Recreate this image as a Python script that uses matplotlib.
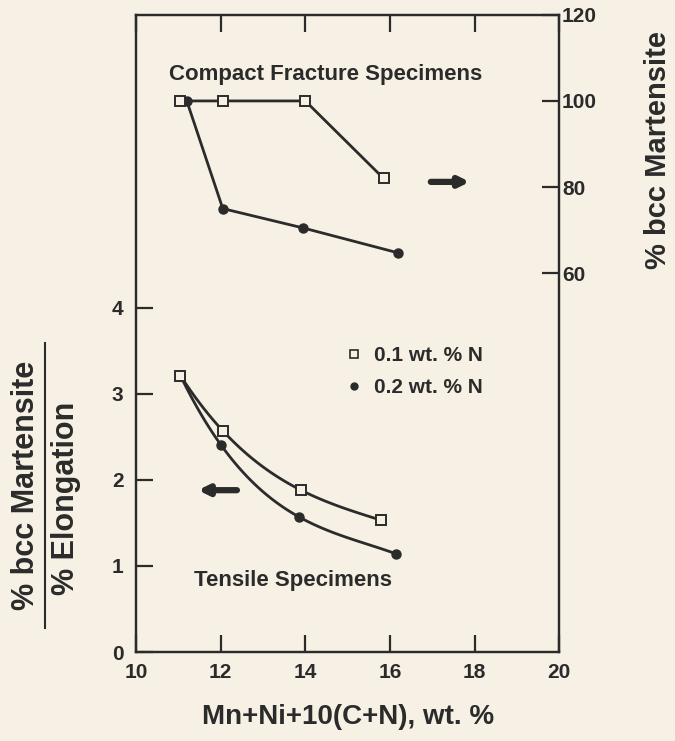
import numpy as np
import matplotlib.pyplot as plt
from matplotlib.lines import Line2D

plt.rcParams['font.family'] = ['Liberation Sans', 'DejaVu Sans']
plt.rcParams['font.weight'] = 'bold'
plt.rcParams['axes.labelweight'] = 'bold'

bg = '#f6f1e4'
ink = '#2b2b2b'

# compact fracture specimens, % bcc martensite (right axis)
cf_x_01 = [11.05, 12.05, 14.0, 15.85]
cf_y_01 = [100, 100, 100, 82]
cf_x_02 = [11.2, 12.05, 13.95, 16.2]
cf_y_02 = [100, 75, 70.5, 64.7]

# tensile specimens, % bcc martensite / % elongation (left axis)
ts_x_01 = [11.05, 12.05, 13.9, 15.8]
ts_y_01 = [3.21, 2.57, 1.88, 1.53]
ts_x_02 = [11.05, 12.0, 13.85, 16.15]
ts_y_02 = [3.21, 2.41, 1.57, 1.14]

xticks = [10, 12, 14, 16, 18, 20]
left_ticks = [0, 1, 2, 3, 4]
right_ticks = [60, 80, 100, 120]

fig = plt.figure(figsize=(6.75, 7.41), dpi=100, facecolor=bg)
ax = fig.add_axes([0.2015, 0.12, 0.627, 0.86], facecolor=bg)
ax2 = ax.twinx()

ax.set_xlim(10, 20)
ax.set_ylim(0, 7.4)
ax2.set_ylim(-28, 120)

# smooth curves through the tensile points
for xs, ys in [(ts_x_02, ts_y_02), (ts_x_01, ts_y_01)]:
    c = np.polyfit(xs, ys, len(xs) - 1)
    xx = np.linspace(xs[0], xs[-1], 100)
    ax.plot(xx, np.polyval(c, xx), color=ink, lw=2.0, zorder=2)
ax.plot(ts_x_02, ts_y_02, 'o', color=ink, ms=6.5, zorder=3)
ax.plot(ts_x_01, ts_y_01, 's', mfc=bg, mec=ink, mew=1.4, ms=6.5, zorder=4)

# compact fracture data, straight segments
ax2.plot(cf_x_02, cf_y_02, '-o', color=ink, lw=2.0, ms=6.5, zorder=3)
ax2.plot(cf_x_01, cf_y_01, '-s', color=ink, lw=2.0, mfc=bg, mec=ink, mew=1.4, ms=6.5, zorder=4)

for a in (ax, ax2):
    for s in a.spines.values():
        s.set_linewidth(1.6)
        s.set_color(ink)

ax.set_xticks(xticks)
ax.set_yticks(left_ticks)
ax.tick_params(axis='x', direction='in', top=True, length=12, width=1.6,
               labelsize=15, pad=8, colors=ink)
ax.tick_params(axis='y', direction='in', length=12, width=1.6,
               labelsize=15, pad=9, colors=ink)
ax2.set_yticks(right_ticks)
ax2.tick_params(axis='y', direction='in', length=12, width=1.6,
                labelsize=15, pad=2, colors=ink)

ax.text(14.47, 6.71, 'Compact Fracture Specimens', ha='center', va='center',
        fontsize=16, fontweight='bold', color=ink)
ax.text(13.72, 0.83, 'Tensile Specimens', ha='center', va='center',
        fontsize=16, fontweight='bold', color=ink)

# arrows pointing to the axis each group is read against
ax.annotate('', xy=(17.95, 5.46), xytext=(16.9, 5.46),
            arrowprops=dict(arrowstyle='-|>', color=ink, lw=4.5, mutation_scale=14))
ax.annotate('', xy=(11.4, 1.88), xytext=(12.45, 1.88),
            arrowprops=dict(arrowstyle='-|>', color=ink, lw=4.5, mutation_scale=14))

handles = [Line2D([], [], ls='none', marker='s', mfc=bg, mec=ink, mew=1.2, ms=5.5),
           Line2D([], [], ls='none', marker='o', color=ink, ms=5)]
leg = ax.legend(handles, ['0.1 wt. % N', '0.2 wt. % N'], loc='upper left',
                bbox_to_anchor=(0.45, 0.51), frameon=False, fontsize=15,
                handlelength=0.8, handletextpad=0.6, labelspacing=0.65)
for t in leg.get_texts():
    t.set_color(ink)
    t.set_fontweight('bold')

ax.set_xlabel('Mn+Ni+10(C+N), wt. %', fontsize=20, fontweight='bold',
              color=ink, labelpad=16)

# left axis label written as a fraction
fig.text(0.038, 0.345, '% bcc Martensite', rotation=90, ha='center', va='center',
         fontsize=22, fontweight='bold', color=ink)
fig.add_artist(Line2D([0.0667, 0.0667], [0.152, 0.537], color=ink, lw=1.5))
fig.text(0.098, 0.328, '% Elongation', rotation=90, ha='center', va='center',
         fontsize=22, fontweight='bold', color=ink)

fig.text(0.975, 0.797, '% bcc Martensite', rotation=90, ha='center', va='center',
         fontsize=21, fontweight='bold', color=ink)

fig.savefig('out.png', dpi=100, facecolor=bg)
